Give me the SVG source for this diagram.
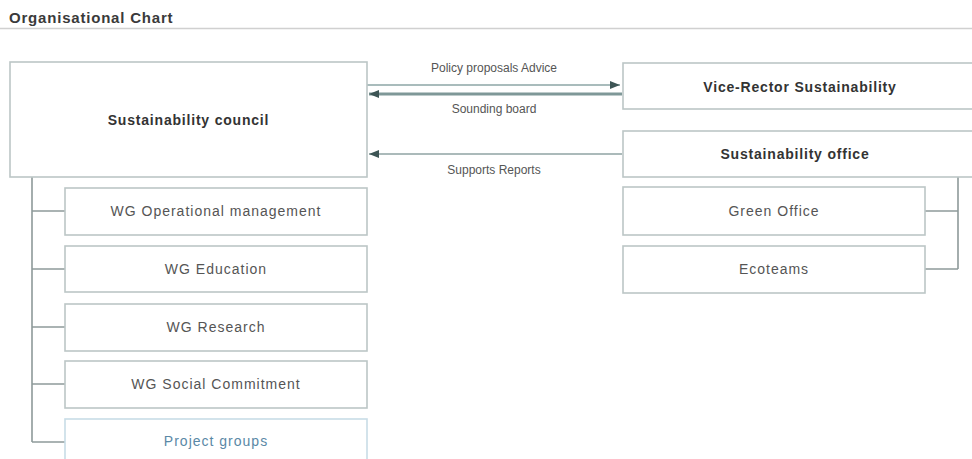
<svg xmlns="http://www.w3.org/2000/svg" width="972" height="459" viewBox="0 0 972 459">
<defs>
<marker id="ah" viewBox="0 0 10 8" refX="10" refY="4" markerWidth="10" markerHeight="8" markerUnits="userSpaceOnUse" orient="auto">
<path d="M0,0 L10,4 L0,8 Z" fill="#3d5555"/>
</marker>
<style>
.box{fill:#ffffff;stroke:#bcc6c6;stroke-width:1.6}
.pbox{fill:#ffffff;stroke:#c8dce6;stroke-width:1.6}
.bt{font-family:"Liberation Sans",Arial,sans-serif;font-size:14px;font-weight:bold;fill:#333;letter-spacing:0.8px;text-anchor:middle}
.rt{font-family:"Liberation Sans",Arial,sans-serif;font-size:14px;fill:#555;letter-spacing:1px;text-anchor:middle}
.pt{font-family:"Liberation Sans",Arial,sans-serif;font-size:14px;fill:#5a88a6;letter-spacing:1px;text-anchor:middle}
.lt{font-family:"Liberation Sans",Arial,sans-serif;font-size:12px;fill:#555;text-anchor:middle}
.tree{fill:none;stroke:#8e9a9a;stroke-width:1.6}
</style>
</defs>
<rect width="972" height="459" fill="#ffffff"/>
<g id="title">
<text x="9" y="23" font-family="Liberation Sans, Arial, sans-serif" font-size="15" font-weight="bold" fill="#3a3a3a" letter-spacing="0.8">Organisational Chart</text>
<line x1="0" y1="28.5" x2="972" y2="28.5" stroke="#d0d0d0" stroke-width="1.5"/>
</g>
<g id="connectors">
<path class="tree" d="M32,177 V442 M32,211 H65 M32,269 H65 M32,327 H65 M32,384 H65 M32,442 H65"/>
<path class="tree" d="M958,177 V269 M925,211 H958 M925,269 H958"/>
<line x1="367" y1="85" x2="620" y2="85" stroke="#a9bcbc" stroke-width="2" marker-end="url(#ah)"/>
<line x1="622" y1="94" x2="369" y2="94" stroke="#7f9898" stroke-width="3" marker-end="url(#ah)"/>
<line x1="622" y1="154" x2="369" y2="154" stroke="#8fa3a3" stroke-width="1.5" marker-end="url(#ah)"/>
<text class="lt" x="494" y="72">Policy proposals Advice</text>
<text class="lt" x="494" y="113">Sounding board</text>
<text class="lt" x="494" y="174">Supports Reports</text>
</g>
<g id="council">
<rect class="box" x="10" y="62" width="357" height="115"/>
<text class="bt" x="188.5" y="125">Sustainability council</text>
</g>
<g id="wg-operational">
<rect class="box" x="65" y="188" width="302" height="47"/>
<text class="rt" x="216" y="216">WG Operational management</text>
</g>
<g id="wg-education">
<rect class="box" x="65" y="246" width="302" height="46"/>
<text class="rt" x="216" y="274">WG Education</text>
</g>
<g id="wg-research">
<rect class="box" x="65" y="304" width="302" height="47"/>
<text class="rt" x="216" y="332">WG Research</text>
</g>
<g id="wg-social">
<rect class="box" x="65" y="361" width="302" height="47"/>
<text class="rt" x="216" y="389">WG Social Commitment</text>
</g>
<g id="project-groups">
<rect class="pbox" x="65" y="419" width="302" height="50"/>
<text class="pt" x="216" y="446">Project groups</text>
</g>
<g id="vice-rector">
<rect class="box" x="623" y="63" width="360" height="46"/>
<text class="bt" x="800" y="92">Vice-Rector Sustainability</text>
</g>
<g id="sust-office">
<rect class="box" x="623" y="131" width="360" height="46"/>
<text class="bt" x="795" y="159">Sustainability office</text>
</g>
<g id="green-office">
<rect class="box" x="623" y="187" width="302" height="48"/>
<text class="rt" x="774" y="216">Green Office</text>
</g>
<g id="ecoteams">
<rect class="box" x="623" y="246" width="302" height="47"/>
<text class="rt" x="774" y="274">Ecoteams</text>
</g>
</svg>
